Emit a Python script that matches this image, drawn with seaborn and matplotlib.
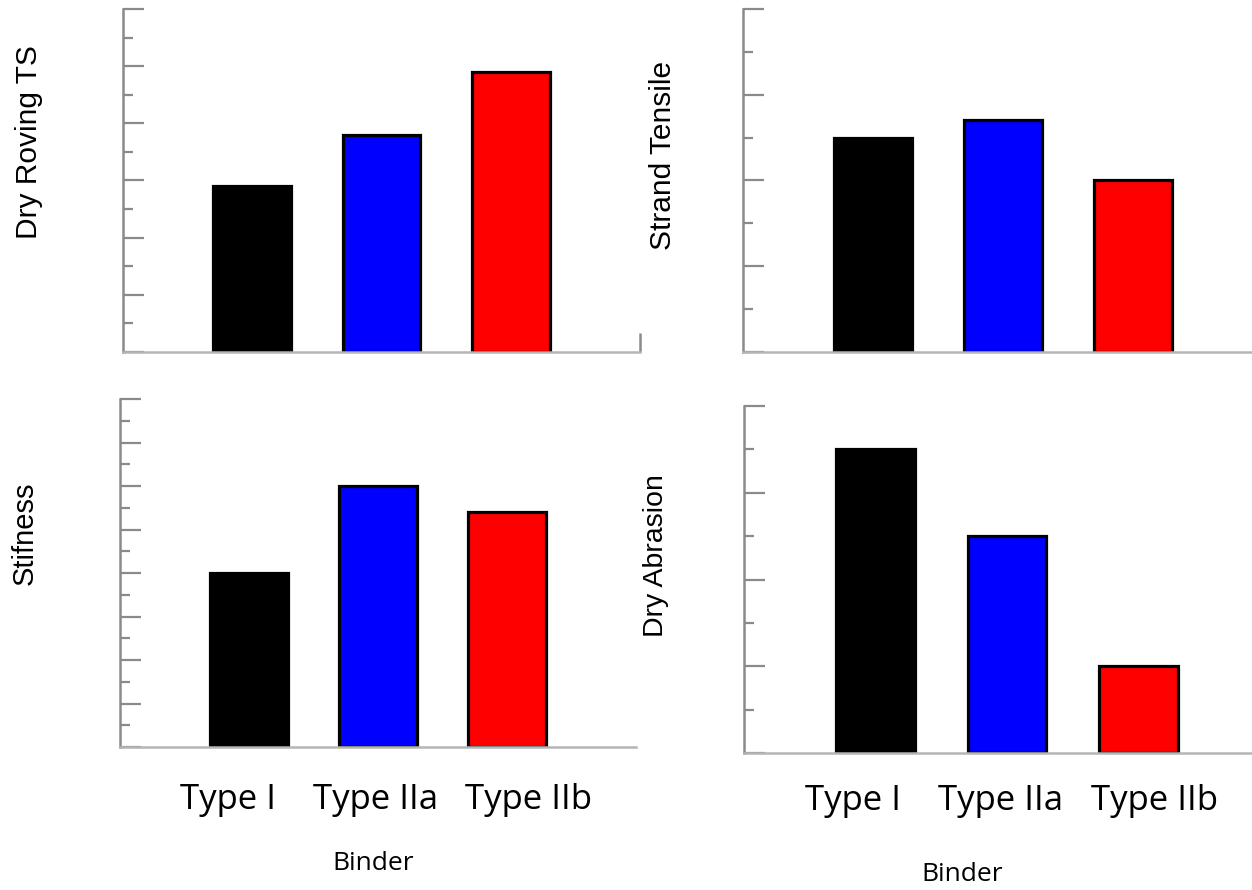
import matplotlib
matplotlib.use("Agg")
import matplotlib.pyplot as plt
from matplotlib.ticker import MultipleLocator
import seaborn as sns

binder = ["Type I", "Type IIa", "Type IIb"]
bar_colors = ["#000000", "#0000ff", "#ff0000"]

dry_roving_ts = [2.9, 3.8, 4.9]
strand_tensile = [2.5, 2.7, 2.0]
stiffness = [4.0, 6.0, 5.4]
dry_abrasion = [3.5, 2.5, 1.0]

sns.set_theme(style="white")
plt.rcParams["font.family"] = ["Liberation Sans", "DejaVu Sans"]
plt.rcParams["text.color"] = "black"
plt.rcParams["xtick.color"] = "black"
plt.rcParams["axes.labelcolor"] = "black"

W, H = 1252, 890
fig = plt.figure(figsize=(W / 100, H / 100), dpi=100)


def rect(l, r, t, b):
    return [l / W, 1 - b / H, (r - l) / W, (b - t) / H]


panels = [
    # values, ylim top, axes box (px), right xlim, category label offsets
    (dry_roving_ts, 6, rect(123, 640, 9, 352), 3.0, None),
    (strand_tensile, 4, rect(743, 1252, 9, 352), 2.915, None),
    (stiffness, 8, rect(120, 636, 399, 747), 3.0, [-0.16, -0.02, 0.17]),
    (dry_abrasion, 4, rect(744, 1252, 406, 753), 2.863, [-0.17, -0.05, 0.12]),
]

label_font = ["Open Sans", "DejaVu Sans"]

axes = []
for vals, ytop, box, xr, shift in panels:
    ax = fig.add_axes(box)
    sns.barplot(x=binder, y=vals, hue=binder, palette=bar_colors, legend=False,
                saturation=1, width=0.6, edgecolor="black", linewidth=2.3, ax=ax)
    ax.set_xlim(-1, xr)
    ax.set_ylim(0, ytop)
    ax.yaxis.set_major_locator(MultipleLocator(1))
    ax.yaxis.set_minor_locator(MultipleLocator(0.5))
    ax.tick_params(axis="y", which="major", direction="in", length=15, width=1.6,
                   color="#8a8a8a", labelleft=False, left=True)
    ax.tick_params(axis="y", which="minor", direction="in", length=7.5, width=1.6,
                   color="#8a8a8a", left=True)
    ax.tick_params(axis="x", which="major", length=0)
    for side in ["top", "right"]:
        ax.spines[side].set_visible(False)
    ax.spines["left"].set_color("#8a8a8a")
    ax.spines["left"].set_linewidth(1.8)
    ax.spines["bottom"].set_color("#b5b5b5")
    ax.spines["bottom"].set_linewidth(1.8)
    ax.set_ylabel("")
    if shift is not None:
        # labels in the source sit a bit apart from the bar centres
        ax.set_xticks([i + s for i, s in enumerate(shift)])
        ax.set_xticklabels(binder, fontsize=25, family=label_font, color="black")
        ax.set_xlabel("Binder", fontsize=19, family=label_font, color="black")
    else:
        ax.set_xticklabels([])
        ax.set_xlabel("")
    axes.append(ax)

# small end tick on the first panel
axes[0].set_xticks([3.0], minor=True)
axes[0].tick_params(axis="x", which="minor", direction="in", length=14, width=1.8,
                    color="#8a8a8a", bottom=True)

axes[2].tick_params(axis="x", pad=26)
axes[3].tick_params(axis="x", pad=22)
axes[2].xaxis.set_label_coords(0.49, -0.30)
axes[3].xaxis.set_label_coords(0.43, -0.315)

# y labels
ylab = dict(rotation=90, ha="center", va="center", color="black")
fig.text(29 / W, 1 - 142 / H, "Dry Roving TS", fontsize=21.5, **ylab)
fig.text(663 / W, 1 - 155 / H, "Strand Tensile", fontsize=21.5, **ylab)
fig.text(25 / W, 1 - 533 / H, "Stifness", fontsize=21, **ylab)
fig.text(656 / W, 1 - 556 / H, "Dry Abrasion", fontsize=20.5, **ylab)

fig.savefig("out.png", dpi=100)
